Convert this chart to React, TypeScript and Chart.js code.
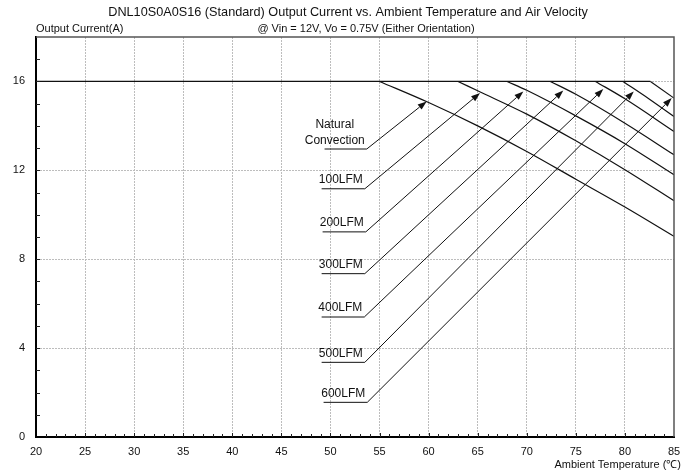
import React, { useEffect, useRef } from 'react';
import { Chart, registerables } from 'chart.js';

Chart.register(...registerables);

const FONT = "'Liberation Sans', Arial, Helvetica, sans-serif";

const titleText = 'DNL10S0A0S16 (Standard) Output Current vs. Ambient Temperature and Air Velocity';
const subtitleText = '@ Vin = 12V, Vo = 0.75V (Either Orientation)';
const yAxisTitle = 'Output Current(A)';
const xAxisTitle = 'Ambient Temperature (\u2103)';

const seriesNames = ['Natural Convection', '100LFM', '200LFM', '300LFM', '400LFM', '500LFM', '600LFM'];

// 16 A plateau shared by all curves
const plateauTemp = [20, 82.6];
const plateauCurrent = [16, 16];

// derating curves (temperature in °C, current in A)
const ncTemp = [55, 60, 65, 70, 75, 80, 85];
const ncCurrent = [16, 15.05, 14.0, 12.85, 11.6, 10.35, 9.03];
const lfm100Temp = [63, 65, 70, 75, 80, 85];
const lfm100Current = [16, 15.58, 14.53, 13.33, 12.03, 10.63];
const lfm200Temp = [68, 70, 75, 80, 85];
const lfm200Current = [16, 15.6, 14.45, 13.2, 11.8];
const lfm300Temp = [72.4, 75, 80, 85];
const lfm300Current = [16, 15.42, 14.12, 12.7];
const lfm400Temp = [77, 80, 85];
const lfm400Current = [16, 15.22, 13.75];
const lfm500Temp = [79.8, 82.5, 85];
const lfm500Current = [16, 15.2, 14.42];
const lfm600Temp = [82.6, 85];
const lfm600Current = [16, 15.25];

const curveTemps = [ncTemp, lfm100Temp, lfm200Temp, lfm300Temp, lfm400Temp, lfm500Temp, lfm600Temp];
const curveCurrents = [ncCurrent, lfm100Current, lfm200Current, lfm300Current, lfm400Current, lfm500Current, lfm600Current];

// callout annotations (data units)
const calloutBaseY = [12.96, 11.17, 9.23, 7.35, 5.4, 3.36, 1.56];
const calloutStartX = [49.4, 49.1, 49.2, 49.1, 49.1, 49.1, 49.3];
const calloutEndX = [53.7, 53.5, 53.6, 53.5, 53.45, 53.5, 53.75];
const calloutTipX = [59.8, 65.24, 69.65, 73.72, 77.8, 80.9, 84.77];
const calloutTipY = [15.1, 15.48, 15.55, 15.59, 15.66, 15.55, 15.25];

const xMin = 20;
const xMax = 85;
const yMin = 0;
const yMax = 18;
const xLabelStep = 5;
const yLabelStep = 4;

const decorPlugin = {
  id: 'decor',
  afterDraw(chart: any) {
    const { ctx, chartArea: ca, scales } = chart;
    const x = scales.x;
    const y = scales.y;
    ctx.save();

    // frame top/right
    ctx.strokeStyle = '#555';
    ctx.lineWidth = 1.5;
    ctx.beginPath();
    ctx.moveTo(ca.left, ca.top);
    ctx.lineTo(ca.right, ca.top);
    ctx.lineTo(ca.right, ca.bottom);
    ctx.stroke();

    // inside minor ticks
    ctx.strokeStyle = '#222';
    ctx.lineWidth = 1;
    for (let v = yMin + 1; v < yMax; v++) {
      const py = Math.round(y.getPixelForValue(v)) + 0.5;
      ctx.beginPath();
      ctx.moveTo(ca.left, py);
      ctx.lineTo(ca.left + 4, py);
      ctx.stroke();
    }
    for (let v = xMin + 1; v < xMax; v++) {
      const px = Math.round(x.getPixelForValue(v)) + 0.5;
      const len = v % xLabelStep === 0 ? 4 : 3;
      ctx.beginPath();
      ctx.moveTo(px, ca.bottom);
      ctx.lineTo(px, ca.bottom - len);
      ctx.stroke();
    }

    // callouts
    ctx.strokeStyle = '#111';
    ctx.fillStyle = '#111';
    ctx.lineWidth = 1;
    for (let i = 0; i < seriesNames.length; i++) {
      const by = y.getPixelForValue(calloutBaseY[i]);
      const sx = x.getPixelForValue(calloutStartX[i]);
      const ex = x.getPixelForValue(calloutEndX[i]);
      const tx = x.getPixelForValue(calloutTipX[i]);
      const ty = y.getPixelForValue(calloutTipY[i]);
      const ang = Math.atan2(ty - by, tx - ex);
      const hl = 9;
      const hw = 3.2;
      const bx = tx - hl * Math.cos(ang);
      const byy = ty - hl * Math.sin(ang);
      ctx.beginPath();
      ctx.moveTo(sx, by);
      ctx.lineTo(ex, by);
      ctx.lineTo(bx, byy);
      ctx.stroke();
      ctx.beginPath();
      ctx.moveTo(tx, ty);
      ctx.lineTo(bx + hw * Math.sin(ang), byy - hw * Math.cos(ang));
      ctx.lineTo(bx - hw * Math.sin(ang), byy + hw * Math.cos(ang));
      ctx.closePath();
      ctx.fill();

      ctx.font = `12px ${FONT}`;
      ctx.textBaseline = 'middle';
      const lines = i === 0 ? seriesNames[i].split(' ') : [seriesNames[i]];
      if (lines.length > 1) {
        ctx.textAlign = 'center';
        lines.forEach((ln, k) => {
          ctx.fillText(ln, ex - 32, by - 8 - (lines.length - 1 - k) * 16);
        });
      } else {
        ctx.textAlign = 'right';
        ctx.fillText(lines[0], ex - 2, by - 9);
      }
    }

    // titles
    ctx.fillStyle = '#111';
    ctx.textBaseline = 'middle';
    ctx.font = `12.7px ${FONT}`;
    ctx.textAlign = 'center';
    ctx.fillText(titleText, 348, 12);
    ctx.font = `11px ${FONT}`;
    ctx.fillText(subtitleText, 366, 29);
    ctx.textAlign = 'left';
    ctx.fillText(yAxisTitle, ca.left, 29);
    ctx.textAlign = 'right';
    ctx.fillText(xAxisTitle, 681, 465);
    ctx.restore();
  },
};

export default function App() {
  const ref = useRef<HTMLCanvasElement>(null);
  useEffect(() => {
    const canvas = ref.current;
    if (!canvas) return;
    const lineStyle = {
      borderColor: '#111',
      borderWidth: 1.2,
      pointRadius: 0,
      fill: false,
      showLine: true,
    };
    const datasets: any[] = [
      {
        label: '16A',
        data: plateauTemp.map((t, i) => ({ x: t, y: plateauCurrent[i] })),
        ...lineStyle,
        tension: 0,
      },
      ...seriesNames.map((name, s) => ({
        label: name,
        data: curveTemps[s].map((t, i) => ({ x: t, y: curveCurrents[s][i] })),
        ...lineStyle,
        cubicInterpolationMode: 'monotone',
      })),
    ];
    const chart = new Chart(canvas, {
      type: 'line',
      data: { datasets },
      plugins: [decorPlugin],
      options: {
        animation: false,
        responsive: false,
        devicePixelRatio: 1,
        layout: { padding: { left: 0, top: 37, right: 21, bottom: 0 } },
        plugins: { legend: { display: false }, tooltip: { enabled: false }, title: { display: false } },
        scales: {
          x: {
            type: 'linear',
            min: xMin,
            max: xMax,
            afterFit: (s: any) => { s.height = 39; },
            ticks: {
              stepSize: 1,
              autoSkip: false,
              maxRotation: 0,
              padding: 8,
              color: '#111',
              font: { family: FONT, size: 11 },
              callback: (v: any) => (Number(v) % xLabelStep === 0 ? String(v) : ''),
            },
            grid: {
              drawTicks: false,
              lineWidth: 1,
              color: (c: any) => {
                const v = c.tick ? c.tick.value : NaN;
                return v % xLabelStep === 0 && v !== xMin && v !== xMax ? '#bdbdbd' : 'rgba(0,0,0,0)';
              },
            },
            border: { display: true, color: '#000', width: 2, dash: [2, 1] },
          },
          y: {
            type: 'linear',
            min: yMin,
            max: yMax,
            afterFit: (s: any) => { s.width = 36; },
            ticks: {
              stepSize: 1,
              autoSkip: false,
              padding: 11,
              color: '#111',
              font: { family: FONT, size: 11 },
              callback: (v: any) => (Number(v) % yLabelStep === 0 && Number(v) <= 16 ? String(v) : ''),
            },
            grid: {
              drawTicks: false,
              lineWidth: 1,
              color: (c: any) => {
                const v = c.tick ? c.tick.value : NaN;
                return v % yLabelStep === 0 && v !== yMin && v !== yMax ? '#bdbdbd' : 'rgba(0,0,0,0)';
              },
            },
            border: { display: true, color: '#000', width: 2, dash: [2, 1] },
          },
        },
      } as any,
    });
    return () => chart.destroy();
  }, []);
  return (
    <div style={{ position: 'absolute', left: 0, top: 0, width: 695, height: 476, background: '#fff' }}>
      <canvas ref={ref} width={695} height={476} style={{ width: 695, height: 476, display: 'block' }} />
    </div>
  );
}
